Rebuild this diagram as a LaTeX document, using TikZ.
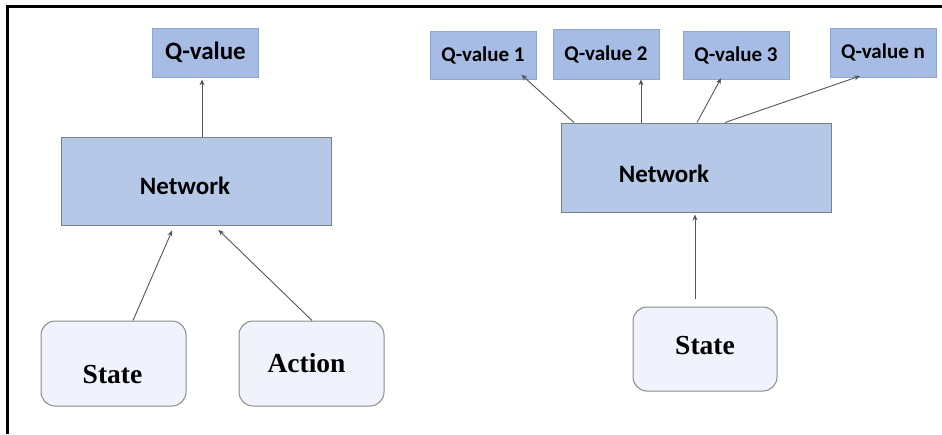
\documentclass[tikz,border=0pt]{standalone}
\usepackage{fontspec}
\usetikzlibrary{arrows.meta}
\setmainfont{Carlito}
\newfontfamily\serifb{Liberation Serif}
\definecolor{qfill}{HTML}{A6BCE4}
\definecolor{qdraw}{HTML}{8FA5D2}
\definecolor{netfill}{HTML}{B6C8E8}
\definecolor{netdraw}{HTML}{7A7F88}
\definecolor{stfill}{HTML}{F0F3FB}
\definecolor{stdraw}{HTML}{8A8A8A}
\definecolor{arr}{HTML}{555555}
\tikzset{
  qbox/.style={draw=qdraw, fill=qfill, line width=0.8pt, minimum width=106pt, minimum height=49pt, inner sep=0pt, font=\bfseries\fontsize{21}{25}\selectfont},
  netbox/.style={draw=netdraw, fill=netfill, line width=1pt, minimum width=270pt, minimum height=88pt, inner sep=0pt},
  stbox/.style={draw=stdraw, fill=stfill, line width=1pt, rounded corners=14pt, minimum width=145pt, minimum height=85pt, inner sep=0pt},
  stfont/.style={font=\serifb\bfseries\fontsize{27.5}{32}\selectfont},
  netlabel/.style={font=\bfseries\fontsize{25}{30}\selectfont},
  conn/.style={draw=arr, line width=0.9pt, -{Stealth[length=6pt,width=5pt]}, shorten >=2pt}
}
\begin{document}
\begin{tikzpicture}[x=1pt,y=-1pt]
\useasboundingbox (0,0) rectangle (942,434);
\draw[line width=3pt, black] (7.5,434) -- (7.5,6.5) -- (942,6.5);
% left diagram
\node[qbox, font=\bfseries\fontsize{25}{30}\selectfont] (qL) at (205.5,52.5) {Q-value};
\node[netbox, label={[netlabel, xshift=-11pt, yshift=-5pt]center:Network}] (netL) at (196,181) {};
\node[stbox, label={[stfont, xshift=-1pt, yshift=-11pt]center:State}] (stL) at (113.5,363.5) {};
\node[stbox, label={[stfont, xshift=-5pt]center:Action}] (act) at (311.5,363.5) {};
\draw[conn] ([xshift=6pt]netL.north) -- ([xshift=-3.5pt]qL.south);
\draw[conn] ([xshift=19.5pt]stL.north) -- ([xshift=-23pt,yshift=-3pt]netL.south);
\draw[conn] ([xshift=0.5pt]act.north) -- ([xshift=21pt,yshift=-3pt]netL.south);
% right diagram
\node[qbox, minimum height=48pt] (q1) at (483,55) {Q-value 1};
\node[qbox, minimum height=50pt] (q2) at (606,54) {Q-value 2};
\node[qbox, minimum height=48pt] (q3) at (736,55) {Q-value 3};
\node[qbox] (qn) at (883,52.5) {Q-value n};
\node[netbox, minimum height=89pt, label={[netlabel, xshift=-32pt, yshift=-6pt]center:Network}] (netR) at (696,167.5) {};
\node[stbox, minimum width=144pt, minimum height=84pt, label={[stfont, yshift=3pt]center:State}] (stR) at (705,349) {};
\draw[conn] ([xshift=-122pt]netR.north) -- ([xshift=37pt,yshift=6pt]q1.south);
\draw[conn] ([xshift=-55pt]netR.north) -- ([xshift=35pt,yshift=2pt]q2.south);
\draw[conn] ([xshift=1pt]netR.north) -- ([xshift=-14pt,yshift=3pt]q3.south);
\draw[conn] ([xshift=29pt]netR.north) -- ([xshift=-21pt,yshift=2pt]qn.south);
\draw[conn, shorten <=8pt] ([xshift=-10pt]stR.north) -- ([xshift=-1pt]netR.south);
\end{tikzpicture}
\end{document}
